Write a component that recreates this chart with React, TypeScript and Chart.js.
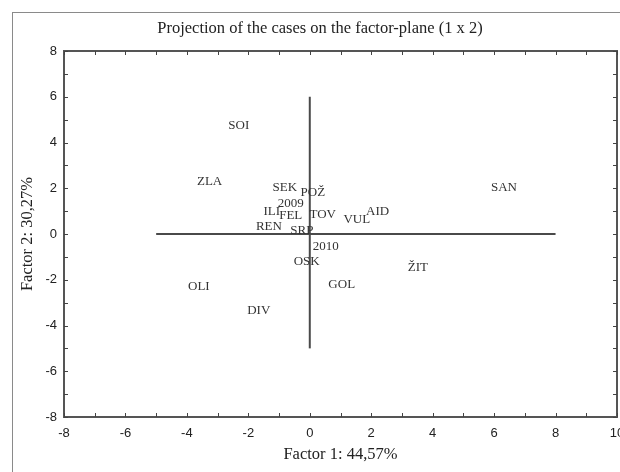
import React, { useEffect, useRef } from 'react';
import { Chart, registerables } from 'chart.js';

Chart.register(...registerables);

const chartTitle = 'Projection of the cases on the factor-plane (1 x 2)';
const xAxisTitle = 'Factor 1: 44,57%';
const yAxisTitle = 'Factor 2: 30,27%';

const caseLabels = ['SOI', 'ZLA', 'SEK', 'POŽ', '2009', 'ILI', 'FEL', 'TOV', 'VUL', 'AID', 'REN', 'SRP', '2010', 'OSK', 'GOL', 'OLI', 'DIV', 'SAN', 'ŽIT'];
const factor1 = [-2.31, -3.26, -0.81, 0.1, -0.62, -1.24, -0.62, 0.42, 1.53, 2.21, -1.33, -0.26, 0.52, -0.1, 1.04, -3.61, -1.66, 6.32, 3.52];
const factor2 = [4.72, 2.27, 2.01, 1.79, 1.31, 0.96, 0.79, 0.87, 0.61, 0.96, 0.31, 0.13, -0.57, -1.22, -2.23, -2.31, -3.36, 2.05, -1.48];

const xRange = [-8, 10];
const yRange = [-8, 8];
const tickStep = 1;
const labelEvery = 2;

// reference cross lines through the origin
const hLineX = [-5, 8];
const vLineY = [-5, 6];

const framePlugin = {
  id: 'framePlugin',
  beforeDraw(chart: any) {
    const ctx = chart.ctx;
    ctx.save();
    ctx.fillStyle = '#ffffff';
    ctx.fillRect(0, 0, chart.width, chart.height);
    ctx.strokeStyle = '#8a8a8a';
    ctx.lineWidth = 1;
    ctx.strokeRect(12.5, 12.5, 800, 600);
    ctx.restore();
  },
  afterDatasetsDraw(chart: any) {
    const ctx = chart.ctx;
    const meta = chart.getDatasetMeta(2);
    ctx.save();
    ctx.font = '13px "Liberation Serif", serif';
    ctx.fillStyle = '#333333';
    ctx.textAlign = 'center';
    ctx.textBaseline = 'middle';
    meta.data.forEach((pt: any, i: number) => {
      ctx.fillText(caseLabels[i], pt.x, pt.y);
    });
    ctx.restore();
  },
  afterDraw(chart: any) {
    const { ctx, chartArea: a, scales } = chart;
    const xs = scales.x;
    const ys = scales.y;
    ctx.save();
    ctx.strokeStyle = '#555555';
    ctx.lineWidth = 2;
    ctx.strokeRect(a.left, a.top, a.right - a.left, a.bottom - a.top);
    ctx.lineWidth = 1;
    ctx.strokeStyle = '#444444';
    ctx.beginPath();
    xs.ticks.forEach((t: any) => {
      const px = Math.round(xs.getPixelForValue(t.value)) + 0.5;
      ctx.moveTo(px, a.bottom);
      ctx.lineTo(px, a.bottom - 4);
      ctx.moveTo(px, a.top);
      ctx.lineTo(px, a.top + 4);
    });
    ys.ticks.forEach((t: any) => {
      const py = Math.round(ys.getPixelForValue(t.value)) + 0.5;
      ctx.moveTo(a.left, py);
      ctx.lineTo(a.left + 4, py);
      ctx.moveTo(a.right, py);
      ctx.lineTo(a.right - 4, py);
    });
    ctx.stroke();
    ctx.font = '16.5px "Liberation Serif", serif';
    ctx.fillStyle = '#222222';
    ctx.textAlign = 'center';
    ctx.textBaseline = 'middle';
    ctx.fillText(chartTitle, 320, 29);
    ctx.restore();
  },
};

export default function App() {
  const ref = useRef<HTMLCanvasElement>(null);

  useEffect(() => {
    if (!ref.current) return;
    const tickCb = (v: any) => (Number(v) % labelEvery === 0 ? String(v) : '');
    const chart = new Chart(ref.current, {
      type: 'scatter',
      data: {
        datasets: [
          {
            data: hLineX.map((x) => ({ x, y: 0 })),
            showLine: true,
            borderColor: '#4a4a4a',
            borderWidth: 2,
            pointRadius: 0,
          },
          {
            data: vLineY.map((y) => ({ x: 0, y })),
            showLine: true,
            borderColor: '#4a4a4a',
            borderWidth: 2,
            pointRadius: 0,
          },
          {
            data: factor1.map((x, i) => ({ x, y: factor2[i] })),
            pointRadius: 0,
            showLine: false,
          },
        ],
      },
      plugins: [framePlugin],
      options: {
        animation: false,
        responsive: false,
        devicePixelRatio: 1,
        layout: { padding: { top: 51, right: 43, left: 0, bottom: 0 } },
        plugins: {
          legend: { display: false },
          tooltip: { enabled: false },
          title: { display: false },
        },
        scales: {
          x: {
            type: 'linear',
            min: xRange[0],
            max: xRange[1],
            grid: { display: false, drawTicks: false },
            border: { display: false },
            ticks: {
              stepSize: tickStep,
              autoSkip: false,
              maxRotation: 0,
              padding: 9,
              color: '#222222',
              font: { family: '"Liberation Sans", Arial, sans-serif', size: 13 },
              callback: tickCb,
            },
            title: {
              display: true,
              text: xAxisTitle,
              color: '#222222',
              font: { family: '"Liberation Serif", serif', size: 16.5 },
              padding: { top: 0, bottom: 7 },
            },
            afterFit: (s: any) => {
              s.height = 55;
            },
          },
          y: {
            type: 'linear',
            min: yRange[0],
            max: yRange[1],
            grid: { display: false, drawTicks: false },
            border: { display: false },
            ticks: {
              stepSize: tickStep,
              autoSkip: false,
              padding: 7,
              color: '#222222',
              font: { family: '"Liberation Sans", Arial, sans-serif', size: 13 },
              callback: tickCb,
            },
            title: {
              display: true,
              text: yAxisTitle,
              color: '#222222',
              font: { family: '"Liberation Serif", serif', size: 16.5 },
              padding: { top: 18, bottom: 0 },
            },
            afterFit: (s: any) => {
              s.width = 64;
            },
          },
        },
      },
    });
    return () => chart.destroy();
  }, []);

  return (
    <div style={{ position: 'fixed', left: 0, top: 0, width: 620, height: 472, overflow: 'hidden', background: '#fff' }}>
      <canvas ref={ref} width={660} height={472} style={{ display: 'block', width: 660, height: 472 }} />
    </div>
  );
}
